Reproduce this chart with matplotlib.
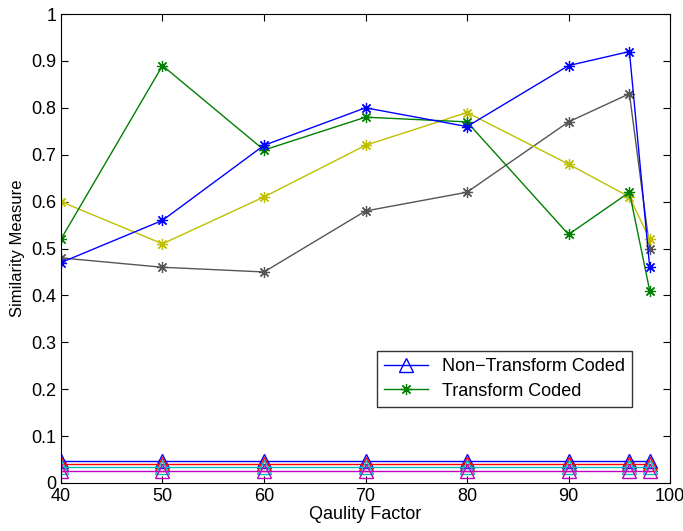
import numpy as np
import matplotlib.pyplot as plt

plt.rcParams['font.family'] = ['Liberation Sans', 'DejaVu Sans']

# quality factors
quality = [40, 50, 60, 70, 80, 90, 96, 98]

# transform coded similarity (star markers)
sim_blue = [0.47, 0.56, 0.72, 0.80, 0.76, 0.89, 0.92, 0.46]
sim_green = [0.52, 0.89, 0.71, 0.78, 0.77, 0.53, 0.62, 0.41]
sim_yellow = [0.60, 0.51, 0.61, 0.72, 0.79, 0.68, 0.61, 0.52]
sim_gray = [0.48, 0.46, 0.45, 0.58, 0.62, 0.77, 0.83, 0.50]

# non-transform coded similarity (triangle markers, flat)
flat_blue = [0.047] * len(quality)
flat_red = [0.040] * len(quality)
flat_cyan = [0.035] * len(quality)
flat_magenta = [0.026] * len(quality)

fig = plt.figure(figsize=(6.83, 5.31), dpi=100)
ax = fig.add_axes([0.0893, 0.0904, 0.8917, 0.8832])

tri = dict(marker='^', markersize=10, markerfacecolor='none', linewidth=1.0)
h_nt, = ax.plot(quality, flat_blue, color='#0000ff', **tri)
ax.plot(quality, flat_red, color='#ff0000', **tri)
ax.plot(quality, flat_cyan, color='#00bfbf', **tri)
ax.plot(quality, flat_magenta, color='#bf00bf', **tri)

star = dict(marker=(8, 2, 0), markersize=8, markeredgewidth=0.9, linewidth=1.0)
ax.plot(quality, sim_gray, color='#555555', **star)
ax.plot(quality, sim_yellow, color='#bfbf00', **star)
h_t, = ax.plot(quality, sim_green, color='#008000', **star)
ax.plot(quality, sim_blue, color='#0000ff', **star)

ax.set_xlim(40, 100)
ax.set_ylim(0, 1)
ax.set_xticks(np.arange(40, 101, 10))
ax.set_yticks(np.arange(0, 1.01, 0.1))
ax.set_yticklabels(['0'] + ['%.1f' % v for v in np.arange(0.1, 0.95, 0.1)] + ['1'])
ax.tick_params(direction='in', top=True, right=True, labelsize=13, length=5)
ax.set_xlabel('Qaulity Factor', fontsize=13, labelpad=1)
ax.set_ylabel('Similarity Measure', fontsize=12, labelpad=4)

ax.legend([h_nt, h_t], ['Non\u2212Transform Coded', 'Transform Coded'],
          loc='upper left', bbox_to_anchor=(0.519, 0.281), fontsize=13,
          fancybox=False, edgecolor='#333333', framealpha=1, borderpad=0.4,
          handlelength=2.4, labelspacing=0.4, borderaxespad=0)

fig.savefig('out.png', dpi=100)
